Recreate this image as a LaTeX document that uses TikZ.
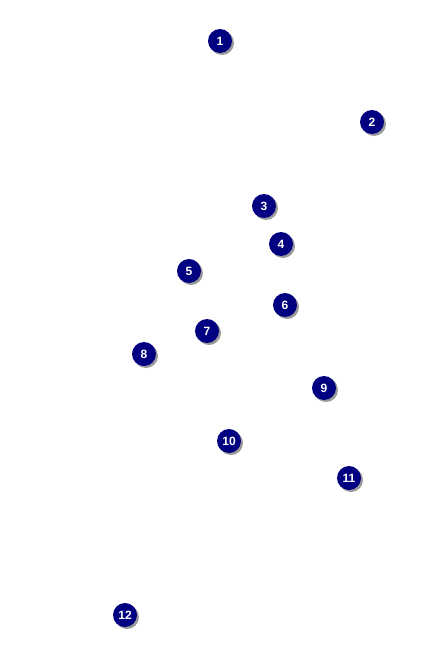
\documentclass[tikz,border=0pt]{standalone}
\usepackage{fontspec}
\setmainfont{Liberation Sans}
\definecolor{navy}{HTML}{000080}
\definecolor{shadowgray}{HTML}{9A9A9A}
\tikzset{
  badge/.style={circle, fill=navy, minimum size=24pt, inner sep=0pt, text=white, font=\bfseries\fontsize{12pt}{13pt}\selectfont,
    preaction={fill=shadowgray, transform canvas={shift={(2pt,-2pt)}}}}
}
\begin{document}
\begin{tikzpicture}[x=1pt,y=-1pt]
\useasboundingbox (0,0) rectangle (425,650);
\node[badge] (n1) at (220,41) {1};
\node[badge] (n2) at (372,122) {2};
\node[badge] (n3) at (264,206) {3};
\node[badge] (n4) at (281,244) {4};
\node[badge] (n5) at (189,271) {5};
\node[badge] (n6) at (285,305) {6};
\node[badge] (n7) at (207,331) {7};
\node[badge] (n8) at (144,354) {8};
\node[badge] (n9) at (324,388) {9};
\node[badge] (n10) at (229,441) {10};
\node[badge] (n11) at (349,478) {11};
\node[badge] (n12) at (125,615) {12};
\end{tikzpicture}
\end{document}
